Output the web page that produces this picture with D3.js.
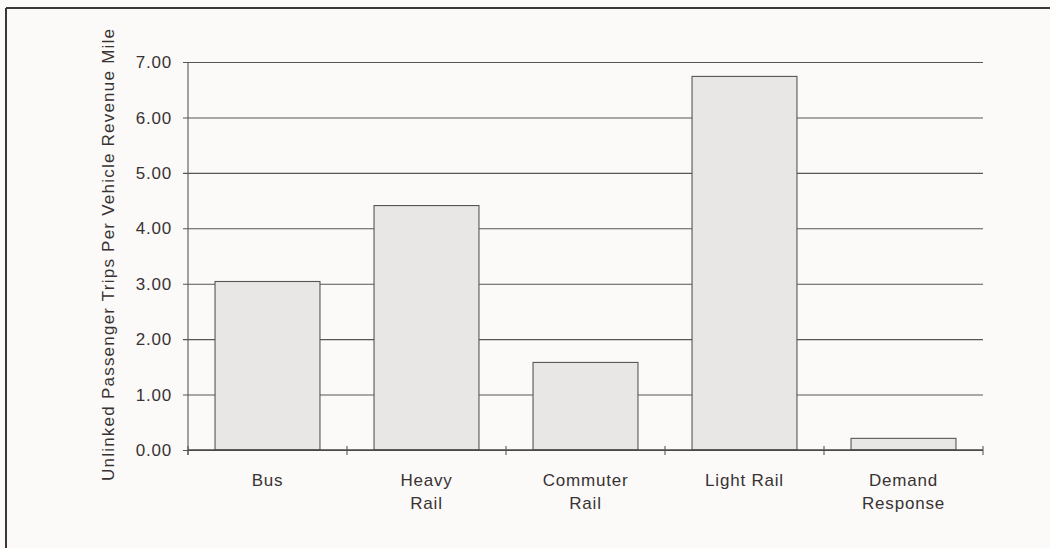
<!DOCTYPE html>
<html>
<head>
<meta charset="utf-8">
<script src="https://cdn.jsdelivr.net/npm/d3@7"></script>
<style>
  html, body { margin: 0; padding: 0; background: #fbfaf8; }
  svg { display: block; }
  text { font-family: "Liberation Sans", Arial, Helvetica, sans-serif; fill: #383233; }
</style>
</head>
<body>
<svg id="chart" width="1050" height="548"></svg>
<script>
// Unlinked passenger trips per vehicle revenue mile, by mode
const categories = ["Bus", "Heavy Rail", "Commuter Rail", "Light Rail", "Demand Response"];
const categoryLines = [["Bus"], ["Heavy", "Rail"], ["Commuter", "Rail"], ["Light Rail"], ["Demand", "Response"]];
const tripsPerMile = [3.04, 4.41, 1.58, 6.74, 0.21];
const yTicks = [0, 1, 2, 3, 4, 5, 6, 7];
const yTitle = "Unlinked Passenger Trips Per Vehicle Revenue Mile";

const svg = d3.select("#chart");
const W = 1050, H = 548;
const plot = { left: 188, right: 983, top: 62, bottom: 450 };

svg.append("rect").attr("width", W).attr("height", H).attr("fill", "#fbfaf8");

// outer frame (top and left edges)
svg.append("line").attr("x1", 6).attr("x2", W).attr("y1", 8).attr("y2", 8)
  .attr("stroke", "#3a3636").attr("stroke-width", 2);
svg.append("line").attr("x1", 6).attr("x2", 6).attr("y1", 8).attr("y2", H)
  .attr("stroke", "#3a3636").attr("stroke-width", 2);

const x = d3.scaleBand()
  .domain(categories)
  .range([plot.left, plot.right])
  .paddingInner(0.34)
  .paddingOuter(0.17);

const y = d3.scaleLinear()
  .domain([0, 7])
  .range([plot.bottom, plot.top]);

// horizontal gridlines, extended a few pixels left of the axis as tick stubs
const gy = svg.append("g")
  .attr("transform", `translate(${plot.right},0)`)
  .call(d3.axisLeft(y).tickValues(yTicks).tickSize(plot.right - plot.left + 5).tickFormat(""));
gy.select(".domain").remove();
gy.selectAll(".tick line").attr("stroke", "#5a5555").attr("stroke-width", 1.1);

// y tick labels
svg.append("g").selectAll("text")
  .data(yTicks)
  .join("text")
  .attr("x", 172)
  .attr("y", d => y(d))
  .attr("dy", "0.36em")
  .attr("text-anchor", "end")
  .attr("font-size", 17)
  .attr("letter-spacing", "0.8px")
  .text(d => d3.format(".2f")(d));

// vertical axis line
svg.append("line")
  .attr("x1", plot.left).attr("x2", plot.left)
  .attr("y1", plot.top).attr("y2", plot.bottom + 5)
  .attr("stroke", "#5a5555").attr("stroke-width", 1.1);

// bars
svg.append("g").selectAll("rect")
  .data(categories.map((c, i) => ({ c, v: tripsPerMile[i] })))
  .join("rect")
  .attr("x", d => x(d.c))
  .attr("y", d => y(d.v))
  .attr("width", x.bandwidth())
  .attr("height", d => y(0) - y(d.v))
  .attr("fill", "#e9e6e6")
  .attr("stroke", "#5a5555")
  .attr("stroke-width", 1.1);

// category axis with ticks at band boundaries
const boundaries = categories.map(c => x(c) - x.step() * x.paddingInner() / 2)
  .concat([plot.right]);
boundaries[0] = plot.left;
svg.append("line")
  .attr("x1", plot.left).attr("x2", plot.right)
  .attr("y1", y(0)).attr("y2", y(0))
  .attr("stroke", "#4a4545").attr("stroke-width", 1.3);
svg.append("g").selectAll("line")
  .data(boundaries)
  .join("line")
  .attr("x1", d => d).attr("x2", d => d)
  .attr("y1", y(0) - 4).attr("y2", y(0) + 5)
  .attr("stroke", "#5a5555").attr("stroke-width", 1.1);

// category labels
const labels = svg.append("g").selectAll("text")
  .data(categories.map((c, i) => ({ c, lines: categoryLines[i] })))
  .join("text")
  .attr("text-anchor", "middle")
  .attr("font-size", 17)
  .attr("letter-spacing", "0.8px");
labels.selectAll("tspan")
  .data(d => d.lines.map(l => ({ l, cx: x(d.c) + x.bandwidth() / 2 })))
  .join("tspan")
  .attr("x", d => d.cx)
  .attr("y", (d, i) => 486 + i * 23)
  .text(d => d.l);

// y axis title
svg.append("text")
  .attr("transform", `translate(114,${(28 + 482) / 2}) rotate(-90)`)
  .attr("text-anchor", "middle")
  .attr("font-size", 17)
  .attr("textLength", 452)
  .attr("lengthAdjust", "spacing")
  .text(yTitle);
</script>
</body>
</html>
